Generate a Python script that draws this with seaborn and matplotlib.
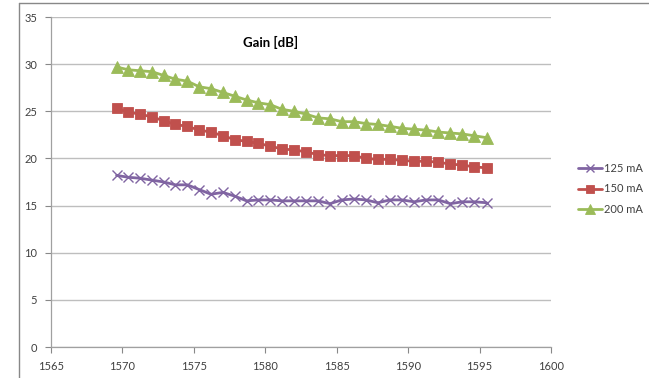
import matplotlib
matplotlib.use("Agg")
import matplotlib.pyplot as plt
from matplotlib.lines import Line2D
import seaborn as sns
import pandas as pd

# Channel wavelengths (nm)
wavelength = [1569.59, 1570.42, 1571.24, 1572.06, 1572.89, 1573.71, 1574.54, 1575.37,
              1576.20, 1577.03, 1577.86, 1578.69, 1579.52, 1580.35, 1581.18, 1582.02,
              1582.85, 1583.69, 1584.53, 1585.36, 1586.20, 1587.04, 1587.88, 1588.73,
              1589.57, 1590.41, 1591.26, 1592.10, 1592.95, 1593.79, 1594.64, 1595.49]

# Gain in dB per pump current
gain_125 = [18.2, 18.0, 17.9, 17.7, 17.5, 17.2, 17.2, 16.7, 16.2, 16.4, 16.0, 15.5,
            15.6, 15.6, 15.5, 15.5, 15.5, 15.5, 15.2, 15.6, 15.7, 15.6, 15.3, 15.6,
            15.6, 15.4, 15.6, 15.6, 15.2, 15.4, 15.4, 15.3]
gain_150 = [25.3, 24.9, 24.7, 24.4, 24.0, 23.6, 23.4, 23.0, 22.8, 22.4, 22.0, 21.8,
            21.6, 21.3, 21.0, 20.9, 20.7, 20.4, 20.3, 20.3, 20.3, 20.0, 19.9, 19.9,
            19.8, 19.7, 19.7, 19.6, 19.4, 19.3, 19.1, 19.0]
gain_200 = [29.7, 29.4, 29.3, 29.2, 28.8, 28.4, 28.2, 27.6, 27.4, 27.0, 26.6, 26.2,
            25.9, 25.7, 25.2, 25.0, 24.7, 24.3, 24.2, 23.9, 23.9, 23.7, 23.6, 23.4,
            23.2, 23.1, 23.0, 22.8, 22.7, 22.6, 22.4, 22.2]

series_names = ["125 mA", "150 mA", "200 mA"]
x_ticks = [1565, 1570, 1575, 1580, 1585, 1590, 1595, 1600]
y_ticks = [0, 5, 10, 15, 20, 25, 30, 35]

sns.set_theme(style="white")
plt.rcParams["font.family"] = ["Lato", "DejaVu Sans"]

fig = plt.figure(figsize=(6.49, 3.78), dpi=100)
ax = fig.add_axes([51 / 649, 31 / 378, 500 / 649, 330 / 378])

styles = {
    "125 mA": dict(color="#8064A2", marker="x", ms=6.5, mew=1.0),
    "150 mA": dict(color="#C0504D", marker="s", ms=7, mew=0.6),
    "200 mA": dict(color="#9BBB59", marker="^", ms=8, mew=0.6),
}

frames = []
for name, vals in zip(series_names, [gain_125, gain_150, gain_200]):
    frames.append(pd.DataFrame({"wavelength": wavelength, "gain": vals, "current": name}))
df = pd.concat(frames, ignore_index=True)

for name in series_names:
    st = styles[name]
    sns.lineplot(data=df[df["current"] == name], x="wavelength", y="gain", ax=ax,
                 color=st["color"], lw=2.0, marker=st["marker"], markersize=st["ms"],
                 markeredgewidth=st["mew"], markeredgecolor=st["color"],
                 legend=False, zorder=3)

ax.set_xlim(1565, 1600)
ax.set_ylim(0, 35)
ax.set_xticks(x_ticks)
ax.set_yticks(y_ticks)
ax.set_xlabel("")
ax.set_ylabel("")
ax.tick_params(axis="both", labelsize=8, length=4, width=0.8,
               direction="out", bottom=True, left=True, pad=6)
ax.tick_params(axis="x", colors="#888888", labelcolor="#404040")
ax.tick_params(axis="y", colors="#888888", labelcolor="#404040")
ax.yaxis.grid(True, color="#BEBEBE", lw=1.0)
ax.xaxis.grid(False)
for side in ["top", "right"]:
    ax.spines[side].set_visible(False)
for side in ["left", "bottom"]:
    ax.spines[side].set_color("#A0A0A0")
    ax.spines[side].set_linewidth(0.9)

ax.text(0.44, 0.924, "Gain [dB]", transform=ax.transAxes, ha="center", va="center",
        fontsize=9.5, fontweight="bold", color="black")

handles = [Line2D([0], [0], color=styles[n]["color"], lw=2.0, marker=styles[n]["marker"],
                  markersize=styles[n]["ms"] - 1, markeredgewidth=styles[n]["mew"],
                  markeredgecolor=styles[n]["color"]) for n in series_names]
fig.legend(handles, series_names, loc="center left", bbox_to_anchor=(575 / 649, 1 - 189 / 378),
           frameon=False, fontsize=8, handlelength=2.1, handletextpad=0.2,
           borderaxespad=0.0, borderpad=0.3,
           labelspacing=0.85, numpoints=1, labelcolor="#404040")

# outer chart frame
fig.add_artist(Line2D([19 / 649, 19 / 649], [0, 1 - 3 / 378], transform=fig.transFigure,
                      color="#888888", lw=1.0))
fig.add_artist(Line2D([19 / 649, 1], [1 - 3 / 378, 1 - 3 / 378], transform=fig.transFigure,
                      color="#888888", lw=1.0))

fig.savefig("out.png", dpi=100)
